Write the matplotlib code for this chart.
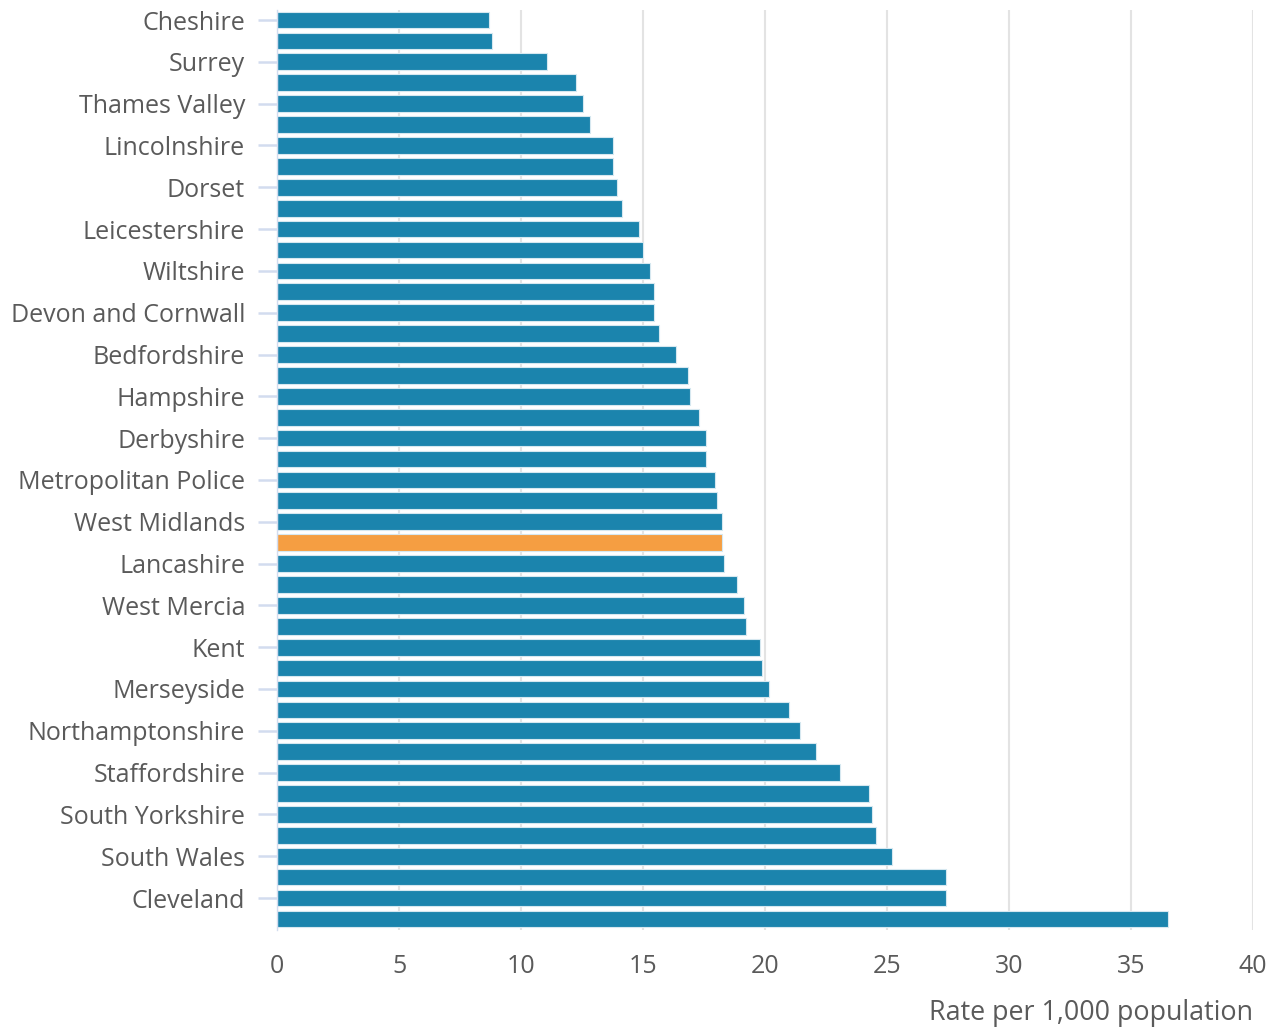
import matplotlib
matplotlib.use("Agg")
import matplotlib.pyplot as plt
import numpy as np

labels = ["Cheshire", "Surrey", "Thames Valley", "Lincolnshire", "Dorset",
          "Leicestershire", "Wiltshire", "Devon and Cornwall", "Bedfordshire",
          "Hampshire", "Derbyshire", "Metropolitan Police", "West Midlands",
          "Lancashire", "West Mercia", "Kent", "Merseyside", "Northamptonshire",
          "Staffordshire", "South Yorkshire", "South Wales", "Cleveland"]

values = [8.69, 8.80, 11.07, 12.27, 12.56, 12.84, 13.75, 13.75, 13.94, 14.12,
          14.84, 15.0, 15.28, 15.47, 15.47, 15.64, 16.37, 16.84, 16.93, 17.3,
          17.57, 17.57, 17.94, 18.04, 18.22, 18.22, 18.31, 18.87, 19.14, 19.22,
          19.78, 19.87, 20.15, 20.97, 21.42, 22.07, 23.08, 24.28, 24.38, 24.56,
          25.19, 27.4, 27.4, 36.5]
highlight_index = 25

xticks = [0, 5, 10, 15, 20, 25, 30, 35, 40]
xlabel = "Rate per 1,000 population"

plt.rcParams['font.family'] = ['Open Sans', 'DejaVu Sans']

fig = plt.figure(figsize=(12.77, 10.30), dpi=100)
ax = fig.add_axes([277/1277, 1-930/1030, (1253-277)/1277, (930-10)/1030])

blue = "#1b84ad"
orange = "#f59e42"
colors = [orange if i == highlight_index else blue for i in range(len(values))]
y = np.arange(len(values))
ax.barh(y, values, height=0.8, color=colors, edgecolor="#d6e8f0", linewidth=0.8, zorder=2)

ax.set_xlim(0, 40)
ax.set_ylim(len(values) - 0.47, -0.48)
ax.set_xticks(xticks)
ax.set_xticklabels([str(t) for t in xticks])
ax.set_yticks(y[::2])
ax.set_yticklabels(labels)

ax.grid(axis="x", color="#e3e3e3", linewidth=1.5, zorder=0)
ax.set_axisbelow(True)
for s in ["top", "right", "bottom"]:
    ax.spines[s].set_visible(False)
ax.spines["left"].set_color("#d2dcef")
ax.spines["left"].set_linewidth(1.0)

ax.tick_params(axis="y", length=14, width=1.8, color="#d2dcef", pad=9,
               labelsize=18, labelcolor="#5a5a5a")
ax.tick_params(axis="x", length=0, pad=17, labelsize=18, labelcolor="#5a5a5a")

fig.text(1253/1277, 1-1013/1030, xlabel, ha="right", va="center",
         fontsize=19.4, color="#5a5a5a")

fig.savefig("out.png", dpi=100)
